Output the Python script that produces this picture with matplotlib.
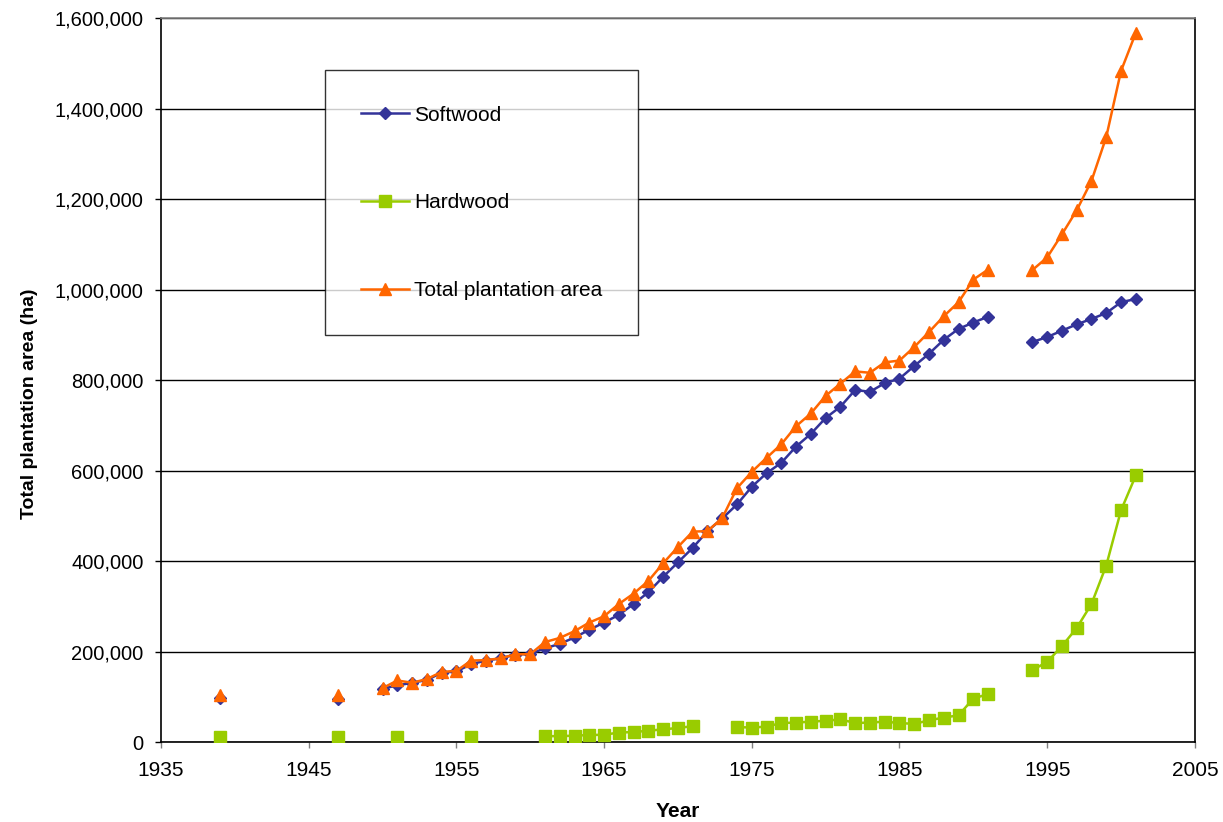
import numpy as np
import matplotlib
matplotlib.use("Agg")
import matplotlib.pyplot as plt
from matplotlib.ticker import FuncFormatter

nan = np.nan

# one value per year, 1939..2001, nan where no data
years = np.arange(1939, 2002)

softwood = [98000, nan, nan, nan, nan, nan, nan, nan, 95000, nan, nan,
            118000, 125000, 131000, 137000, 153000, 156000, 172000, 180000, 185000, 193000,
            195000, 207000, 217000, 231000, 248000, 264000, 281000, 305000, 331000, 365000,
            397000, 429000, 466000, 494000, 525000, 564000, 594000, 617000, 653000, 681000,
            716000, 741000, 778000, 774000, 793000, 803000, 831000, 858000, 889000, 913000,
            927000, 940000, nan, nan,
            884000, 895000, 909000, 923000, 935000, 948000, 972000, 979000]

hardwood = [10000, nan, nan, nan, nan, nan, nan, nan, 11000, nan, nan,
            nan, 12000, nan, nan, nan, nan, 12000, nan, nan, nan,
            nan, 13000, 13000, 14000, 15500, 16000, 21000, 22000, 25000, 28000,
            31000, 35000, nan, nan, 33000, 32000, 34000, 42000, 43000, 45000,
            47000, 50000, 42000, 43000, 45000, 42000, 40000, 48000, 54000, 59000,
            96000, 106000, nan, nan,
            159000, 177000, 212000, 252000, 305000, 390000, 512000, 589000]

total = [104000, nan, nan, nan, nan, nan, nan, nan, 103000, nan, nan,
         119000, 136000, 131000, 139000, 155000, 157000, 180000, 181000, 185000, 194000,
         194000, 221000, 230000, 245000, 264000, 278000, 305000, 328000, 356000, 395000,
         431000, 465000, 466000, 495000, 561000, 597000, 628000, 658000, 698000, 726000,
         765000, 792000, 819000, 816000, 839000, 843000, 873000, 906000, 941000, 972000,
         1022000, 1044000, nan, nan,
         1043000, 1071000, 1122000, 1175000, 1240000, 1337000, 1483000, 1567000]

plt.rcParams['font.family'] = ['Liberation Sans', 'DejaVu Sans']

fig = plt.figure(figsize=(12.23, 8.22), dpi=100)
ax = fig.add_axes([0.1316, 0.0973, 0.8454, 0.8808])

ax.plot(years, softwood, color='#333399', lw=1.8, marker='D', ms=6,
        label='Softwood', zorder=3)
ax.plot(years, hardwood, color='#99CC00', lw=1.8, marker='s', ms=8.5,
        label='Hardwood', zorder=3)
ax.plot(years, total, color='#FF6600', lw=1.8, marker='^', ms=9,
        label='Total plantation area', zorder=4)

ax.set_xlim(1935, 2005)
ax.set_ylim(0, 1600000)
ax.set_xticks(np.arange(1935, 2006, 10))
ax.set_yticks(np.arange(0, 1600001, 200000))
ax.yaxis.set_major_formatter(FuncFormatter(lambda v, p: f"{int(v):,}"))
ax.yaxis.grid(True, color='black', lw=1)
ax.set_axisbelow(True)

ax.tick_params(axis='y', labelsize=14.5, direction='out', length=4.5, width=1, pad=8)
ax.tick_params(axis='x', labelsize=15, direction='out', length=4.5, width=1,
               color='#808080', pad=9.5)
for s in ax.spines.values():
    s.set_color('black')
    s.set_linewidth(1.2)
ax.spines['top'].set_color('#808080')

ax.set_xlabel('Year', fontsize=15, fontweight='bold')
ax.set_ylabel('Total plantation area (ha)', fontsize=14, fontweight='bold')
ax.xaxis.set_label_coords(0.5, -0.083)
ax.yaxis.set_label_coords(-0.119, 0.467)

leg = ax.legend(loc='upper left', bbox_to_anchor=(0.159, 0.928), fontsize=15,
                frameon=True, fancybox=False, borderpad=1.7, labelspacing=3.3,
                handlelength=2.3, handletextpad=0.25, borderaxespad=0)
leg.get_frame().set_edgecolor('black')
leg.get_frame().set_linewidth(1)

fig.savefig('out.png', dpi=100)
